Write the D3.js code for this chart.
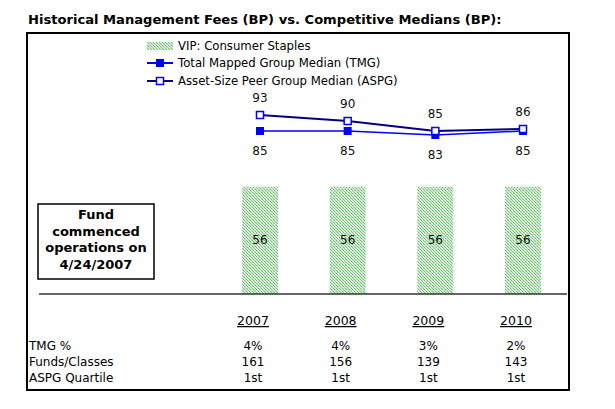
<!DOCTYPE html>
<html><head><meta charset="utf-8">
<script src="https://cdn.jsdelivr.net/npm/d3@7"></script>
<style>body{margin:0;background:#fff}svg text{font-family:"DejaVu Sans",Verdana,sans-serif}</style>
</head><body>
<svg id="c" width="615" height="409"></svg>
<script>
const years = ["2007","2008","2009","2010"];
const vipFees = [56,56,56,56];
const tmgMedian = [85,85,83,85];
const aspgMedian = [93,90,85,86];
const tmgPct = ["4%","4%","3%","2%"];
const fundsClasses = ["161","156","139","143"];
const aspgQuartile = ["1st","1st","1st","1st"];
const rowLabels = ["TMG %","Funds/Classes","ASPG Quartile"];
const seriesNames = ["VIP: Consumer Staples","Total Mapped Group Median (TMG)","Asset-Size Peer Group Median (ASPG)"];
const noteLines = ["Fund","commenced","operations on","4/24/2007"];

const svg = d3.select("#c");
const defs = svg.append("defs");
const pat = defs.append("pattern").attr("id","dots").attr("width",3).attr("height",3).attr("patternUnits","userSpaceOnUse");
pat.append("rect").attr("width",3).attr("height",3).attr("fill","#d0eed0");
pat.append("rect").attr("x",0).attr("y",0).attr("width",1).attr("height",1).attr("fill","#6fc06f");
pat.append("rect").attr("x",1).attr("y",1).attr("width",1).attr("height",1).attr("fill","#a0a0a0");
pat.append("rect").attr("x",2).attr("y",2).attr("width",1).attr("height",1).attr("fill","#8ed48e");

svg.append("text").attr("x",28).attr("y",24).attr("font-size",13.1).attr("font-weight","bold").attr("fill","#000")
  .text("Historical Management Fees (BP) vs. Competitive Medians (BP):");

svg.append("rect").attr("x",27).attr("y",33).attr("width",542).attr("height",357)
  .attr("fill","none").attr("stroke","#000").attr("stroke-width",2);

const x = d3.scalePoint().domain(years).range([260,523]);
const yBar = d3.scaleLinear().domain([0,60]).range([294,179]);
const yLine = d3.scaleLinear().domain([80,95]).range([141,111]);
const bw = 36;

// bars
svg.selectAll(".bar").data(years).join("rect")
  .attr("x",d=>x(d)-bw/2).attr("y",(d,i)=>yBar(vipFees[i]))
  .attr("width",bw).attr("height",(d,i)=>yBar(0)-yBar(vipFees[i]))
  .attr("fill","url(#dots)");
svg.selectAll(".blab").data(years).join("text")
  .attr("x",d=>x(d)).attr("y",(d,i)=>(yBar(vipFees[i])+yBar(0))/2+4)
  .attr("text-anchor","middle").attr("font-size",12).attr("fill","#111")
  .text((d,i)=>vipFees[i]);

// axis baseline
svg.append("line").attr("x1",39).attr("x2",567).attr("y1",yBar(0)).attr("y2",yBar(0))
  .attr("stroke","#333").attr("stroke-width",1.5);

// lines
const line = d3.line().x((d,i)=>x(years[i])).y(d=>yLine(d));
svg.append("path").attr("d",line(aspgMedian)).attr("fill","none").attr("stroke","#000080").attr("stroke-width",2);
svg.append("path").attr("d",line(tmgMedian)).attr("fill","none").attr("stroke","#0000ff").attr("stroke-width",1.5);
svg.selectAll(".tm").data(tmgMedian).join("rect")
  .attr("x",(d,i)=>x(years[i])-4).attr("y",d=>yLine(d)-4).attr("width",8).attr("height",8).attr("fill","#0000ff");
svg.selectAll(".am").data(aspgMedian).join("rect")
  .attr("x",(d,i)=>x(years[i])-3.5).attr("y",d=>yLine(d)-3.5).attr("width",7).attr("height",7)
  .attr("fill","#fff").attr("stroke","#0000ff").attr("stroke-width",1.5);
svg.selectAll(".al").data(aspgMedian).join("text")
  .attr("x",(d,i)=>x(years[i])).attr("y",d=>yLine(d)-13)
  .attr("text-anchor","middle").attr("font-size",12).attr("fill","#111").text(d=>d);
svg.selectAll(".tl").data(tmgMedian).join("text")
  .attr("x",(d,i)=>x(years[i])).attr("y",d=>yLine(d)+24)
  .attr("text-anchor","middle").attr("font-size",12).attr("fill","#111").text(d=>d);

// legend
const lg = svg.append("g");
const ly = [46,63,81];
lg.append("rect").attr("x",147).attr("y",ly[0]-4).attr("width",26).attr("height",8).attr("fill","url(#dots)");
lg.append("line").attr("x1",147).attr("x2",173).attr("y1",ly[1]).attr("y2",ly[1]).attr("stroke","#0000ff").attr("stroke-width",2);
lg.append("rect").attr("x",156).attr("y",ly[1]-4).attr("width",8).attr("height",8).attr("fill","#0000ff");
lg.append("line").attr("x1",147).attr("x2",173).attr("y1",ly[2]).attr("y2",ly[2]).attr("stroke","#000080").attr("stroke-width",2);
lg.append("rect").attr("x",156.5).attr("y",ly[2]-3.5).attr("width",7).attr("height",7).attr("fill","#fff").attr("stroke","#0000ff").attr("stroke-width",1.5);
lg.selectAll("text").data(seriesNames).join("text")
  .attr("x",178).attr("y",(d,i)=>ly[i]+4).attr("font-size",11.7).attr("fill","#000").text(d=>d);

// note box
svg.append("rect").attr("x",38).attr("y",204).attr("width",116).attr("height",75)
  .attr("fill","#fff").attr("stroke","#000").attr("stroke-width",1.5);
svg.selectAll(".note").data(noteLines).join("text")
  .attr("x",96).attr("y",(d,i)=>219+i*16.5).attr("text-anchor","middle")
  .attr("font-size",13).attr("font-weight","bold").attr("fill","#000").text(d=>d);

// table
svg.selectAll(".yr").data(years).join("text")
  .attr("x",d=>x(d)-7).attr("y",325).attr("text-anchor","middle").attr("font-size",12.5)
  .attr("text-decoration","underline").attr("fill","#000").text(d=>d);
const rowsY = [350,366,382];
svg.selectAll(".rl").data(rowLabels).join("text")
  .attr("x",29).attr("y",(d,i)=>rowsY[i]).attr("font-size",12).attr("fill","#000").text(d=>d);
[tmgPct,fundsClasses,aspgQuartile].forEach((row,r)=>{
  svg.selectAll(".r"+r).data(row).join("text")
    .attr("x",(d,i)=>x(years[i])-7).attr("y",rowsY[r]).attr("text-anchor","middle")
    .attr("font-size",12).attr("fill","#000").text(d=>d);
});
</script>
</body></html>
